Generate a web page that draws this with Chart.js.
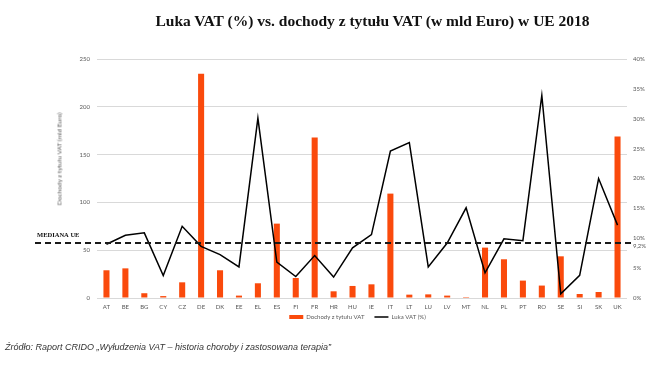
<!DOCTYPE html>
<html>
<head>
<meta charset="utf-8">
<script src="https://cdn.jsdelivr.net/npm/chart.js@4"></script>
<style>
  html, body { margin: 0; padding: 0; background: #fff; }
  #wrap { position: relative; width: 667px; height: 366px; overflow: hidden; }
  #chart { position: absolute; left: 0; top: 0; }
  #title { position: absolute; left: 78px; right: 0; top: 12px; text-align: center;
    font: bold 15.5px "Liberation Serif", serif; color: #111; white-space: nowrap; }
  #ytitle { position: absolute; left: 59px; top: 159px; transform: translate(-50%, -50%) rotate(-90deg);
    font: 6.5px Lato, sans-serif; color: #595959; white-space: nowrap; }
  #source { position: absolute; left: 5px; top: 342px; font: italic 9px "Liberation Sans", sans-serif;
    color: #333; white-space: nowrap; }
</style>
</head>
<body>
<div id="wrap">
  <canvas id="chart" width="667" height="366"></canvas>
  <div id="title">Luka VAT (%) vs. dochody z tytułu VAT (w mld Euro) w UE 2018</div>
  <div id="ytitle">Dochody z tytułu VAT (mld Euro)</div>
  <div id="source">Źródło: Raport CRIDO „Wyłudzenia VAT – historia choroby i zastosowana terapia”</div>
</div>
<script>
// kraje UE
var categories = ['AT', 'BE', 'BG', 'CY', 'CZ', 'DE', 'DK', 'EE', 'EL', 'ES', 'FI', 'FR', 'HR', 'HU',
    'IE', 'IT', 'LT', 'LU', 'LV', 'MT', 'NL', 'PL', 'PT', 'RO', 'SE', 'SI', 'SK', 'UK'];

// dochody z tytulu VAT (mld Euro)
var revenue = [29, 31, 5, 2, 16.4, 234.7, 29, 2.5, 15.4, 77.8, 20.9, 167.8, 7, 12.6,
    14.3, 109.2, 3.5, 3.8, 2.5, 1, 52.7, 40.5, 18.2, 13, 43.6, 4.2, 6.3, 169];

// luka VAT (%)
var vatGap = [9.0, 10.5, 10.9, 3.75, 12.0, 8.65, 7.26, 5.2, 30.1, 6.0, 3.6, 7.1, 3.5, 8.4,
    10.6, 24.6, 26.0, 5.2, 9.2, 15.1, 4.2, 9.9, 9.6, 33.9, 0.7, 3.8, 20.0, 12.2];

var medianGap = 9.2;
var medianLabel = '9,2%';

var tickFont = { family: 'Lato', size: 6 };
var grey = '#595959';

// linia mediany
var medianPlugin = {
    id: 'median',
    afterDatasetsDraw: function (chart) {
        var ctx = chart.ctx;
        var y = chart.scales.y1.getPixelForValue(medianGap);
        ctx.save();
        ctx.strokeStyle = '#1a1a1a';
        ctx.lineWidth = 2;
        ctx.setLineDash([6, 4]);
        ctx.beginPath();
        ctx.moveTo(35, y);
        ctx.lineTo(632, y);
        ctx.stroke();
        ctx.setLineDash([]);
        ctx.fillStyle = '#111';
        ctx.font = 'bold 6.5px "Liberation Serif"';
        ctx.textBaseline = 'middle';
        ctx.fillText('MEDIANA UE', 37, y - 8);
        ctx.fillStyle = grey;
        ctx.font = '6px Lato';
        ctx.fillText(medianLabel, 633, y + 3);
        ctx.restore();
    }
};

// legenda przesunieta pod srodek wykresu
var legendShift = {
    id: 'legendShift',
    afterLayout: function (chart) {
        var lg = chart.legend;
        var dy = 304 - lg.top;
        lg.top += dy; lg.bottom += dy;
        lg.left += 24; lg.right += 24;
    }
};

var ctx = document.getElementById('chart').getContext('2d');
var myChart = new Chart(ctx, {
    type: 'bar',
    data: {
        labels: categories,
        datasets: [{
            type: 'line',
            label: 'Luka VAT (%)',
            data: vatGap,
            yAxisID: 'y1',
            borderColor: '#000',
            backgroundColor: '#000',
            borderWidth: 1.5,
            pointRadius: 0,
            pointStyle: 'line',
            tension: 0,
            order: 0
        }, {
            label: 'Dochody z tytułu VAT',
            data: revenue,
            yAxisID: 'y',
            backgroundColor: '#FA4A0C',
            pointStyle: 'rect',
            barPercentage: 0.4,
            categoryPercentage: 0.8,
            order: 1
        }]
    },
    options: {
        responsive: false,
        animation: false,
        layout: { padding: { top: 59, bottom: 30, left: 0, right: 0 } },
        plugins: {
            title: { display: false },
            tooltip: { enabled: false },
            legend: {
                position: 'bottom',
                reverse: true,
                labels: {
                    usePointStyle: true,
                    pointStyleWidth: 14,
                    boxHeight: 4,
                    padding: 10,
                    color: grey,
                    font: tickFont
                }
            }
        },
        scales: {
            x: {
                grid: { display: false, drawTicks: false },
                border: { display: false },
                ticks: { color: grey, font: tickFont, padding: 5, maxRotation: 0, autoSkip: false },
                afterFit: function (s) { s.height = 12; }
            },
            y: {
                position: 'left',
                min: 0,
                max: 250,
                ticks: { stepSize: 50, color: grey, font: tickFont, padding: 7 },
                grid: { color: '#D9D9D9', drawTicks: false },
                border: { display: false },
                afterFit: function (s) { s.width = 97; }
            },
            y1: {
                position: 'right',
                min: 0,
                max: 40,
                ticks: {
                    stepSize: 5, color: grey, font: tickFont, padding: 6,
                    callback: function (v) { return v + '%'; }
                },
                grid: { display: false, drawTicks: false },
                border: { display: false },
                afterFit: function (s) { s.width = 40; }
            }
        }
    },
    plugins: [medianPlugin, legendShift]
});
</script>
</body>
</html>
